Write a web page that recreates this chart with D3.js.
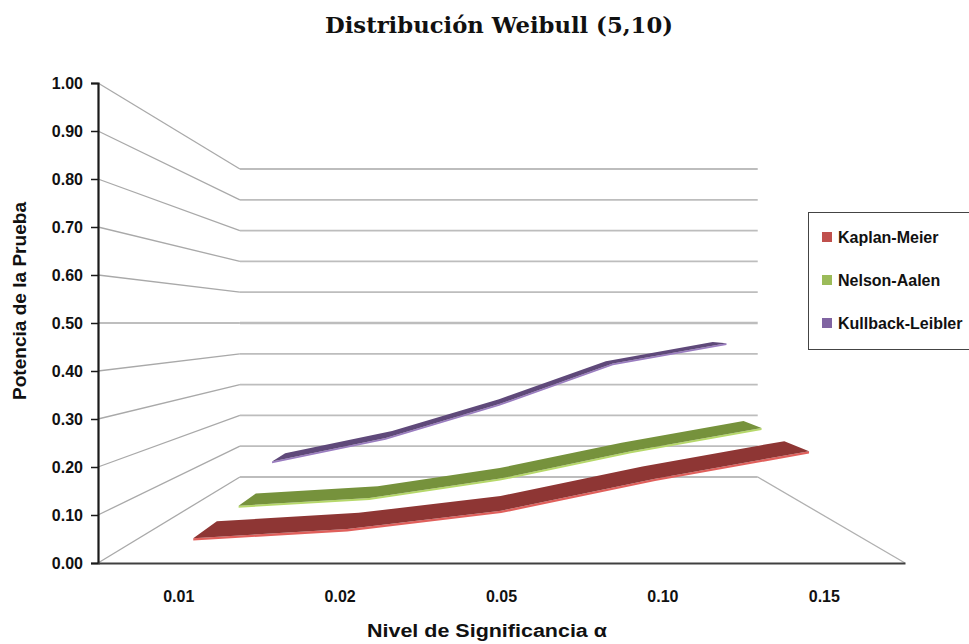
<!DOCTYPE html>
<html>
<head>
<meta charset="utf-8">
<style>
    body {
        margin: 0px;
        padding: 0px;
        background-color: white;
        overflow: hidden;
    }
    text {
        font-family: "Liberation Sans", Arial, sans-serif;
        font-weight: bold;
        fill: #111;
    }
    .title {
        font-family: "DejaVu Serif", "Liberation Serif", serif;
        font-size: 23px;
    }
    .tick text {
        font-size: 16px;
    }
    .axis-title {
        font-size: 18px;
    }
    .legend text {
        font-size: 16px;
    }
</style>
</head>
<body>
<script src="https://cdnjs.cloudflare.com/ajax/libs/d3/7.8.5/d3.min.js"></script>
<script>
// data
var categories = ["0.01", "0.02", "0.05", "0.10", "0.15"];
var seriesNames = ["Kaplan-Meier", "Nelson-Aalen", "Kullback-Leibler"];
var kaplanMeier = [0.03, 0.05, 0.09, 0.16, 0.22];
var nelsonAalen = [0.03, 0.05, 0.10, 0.17, 0.23];
var kullbackLeibler = [0.09, 0.16, 0.26, 0.38, 0.44];
var seriesValues = [kaplanMeier, nelsonAalen, kullbackLeibler];
var topColors = ["#8e3634", "#76923c", "#5f497a"];
var edgeColors = ["#e0605c", "#b6d86a", "#9a7cc0"];
var legendColors = ["#c0504d", "#9bbb59", "#8064a2"];

var width = 969, height = 644;

// front plane of the 3d box
var x = d3.scaleBand().domain(categories).range([98, 905]);
var y = d3.scaleLinear().domain([0, 1]).range([563, 83]);
// depth: 0 = front, 1 = back wall
var z = d3.scaleBand().domain(seriesNames).range([0, 1]);

var vp = { x: 494, y: 323 };   // vanishing point
var k = 0.5584;                 // back wall shrinks to ~0.64

function project(px, py, pz) {
    var s = 1 / (1 + k * pz);
    return [vp.x + (px - vp.x) * s, vp.y + (py - vp.y) * s];
}

var svg = d3.select("body").append("svg")
    .attr("width", width)
    .attr("height", height);

svg.append("text")
    .attr("class", "title")
    .attr("x", 499)
    .attr("y", 33)
    .attr("text-anchor", "middle")
    .attr("textLength", 348)
    .attr("lengthAdjust", "spacingAndGlyphs")
    .text("Distribución Weibull (5,10)");

// walls: side wall + back wall gridlines
var grid = svg.append("g").attr("class", "grid");
var yTicks = y.ticks(10);
var x0 = x.range()[0], x1 = x.range()[1];

yTicks.forEach(function(v) {
    var a = project(x0, y(v), 0),
        b = project(x0, y(v), 1),
        c = project(x1, y(v), 1);
    grid.append("line")
        .attr("x1", a[0]).attr("y1", a[1])
        .attr("x2", b[0]).attr("y2", b[1])
        .attr("stroke", "#a9a9a9")
        .attr("stroke-width", 1.3);
    grid.append("line")
        .attr("x1", b[0]).attr("y1", b[1])
        .attr("x2", c[0]).attr("y2", c[1])
        .attr("stroke", "#bdbdbd")
        .attr("stroke-width", v == 0.5 ? 2.5 : 1.8);
});

// floor right edge
var fr0 = project(x1, y(0), 0), fr1 = project(x1, y(0), 1);
grid.append("line")
    .attr("x1", fr0[0]).attr("y1", fr0[1])
    .attr("x2", fr1[0]).attr("y2", fr1[1])
    .attr("stroke", "#b0b0b0")
    .attr("stroke-width", 1.3);

// ribbons, back series first
var ribbonDepth = z.bandwidth() * 0.48;
var ribbons = svg.append("g").attr("class", "ribbons");

d3.range(seriesNames.length).reverse().forEach(function(i) {
    var name = seriesNames[i];
    var zc = z(name) + z.bandwidth() / 2;
    var zf = zc - ribbonDepth / 2, zb = zc + ribbonDepth / 2;
    var vals = seriesValues[i];
    var cx = function(j) { return x(categories[j]) + x.bandwidth() / 2; };

    var front = vals.map(function(v, j) { return project(cx(j), y(v), zf); });
    var back = vals.map(function(v, j) { return project(cx(j), y(v), zb); });
    var frontLow = vals.map(function(v, j) { return project(cx(j), y(v) + 2.5, zf); });

    // front face (thickness)
    ribbons.append("path")
        .attr("d", d3.line()(front.concat(frontLow.slice().reverse())) + "Z")
        .attr("fill", edgeColors[i]);
    // top surface
    ribbons.append("path")
        .attr("d", d3.line()(front.concat(back.slice().reverse())) + "Z")
        .attr("fill", topColors[i]);
});

// y axis
var yAxis = svg.append("g")
    .attr("class", "y axis")
    .attr("transform", "translate(" + x0 + ",0)")
    .call(d3.axisLeft(y).ticks(10).tickFormat(d3.format(".2f")).tickSize(7).tickPadding(8));
yAxis.select(".domain").attr("stroke", "#1a1a1a").attr("stroke-width", 2.2);
yAxis.selectAll(".tick line").attr("stroke", "#1a1a1a").attr("stroke-width", 1.5);

// x axis along the front edge of the floor
var xAxis = svg.append("g")
    .attr("class", "x axis")
    .attr("transform", "translate(0," + y(0) + ")")
    .call(d3.axisBottom(x).tickSize(0).tickSizeOuter(0).tickPadding(28));
xAxis.select(".domain").attr("stroke", "#404040").attr("stroke-width", 2.2);

svg.append("text")
    .attr("class", "axis-title")
    .attr("transform", "translate(26,301) rotate(-90)")
    .attr("text-anchor", "middle")
    .attr("textLength", 198)
    .attr("lengthAdjust", "spacingAndGlyphs")
    .text("Potencia de la Prueba");

svg.append("text")
    .attr("class", "axis-title")
    .attr("x", 487)
    .attr("y", 637)
    .attr("text-anchor", "middle")
    .attr("textLength", 240)
    .attr("lengthAdjust", "spacingAndGlyphs")
    .text("Nivel de Significancia α");

// legend
var legend = svg.append("g").attr("class", "legend");
legend.append("rect")
    .attr("x", 808.5).attr("y", 212.5)
    .attr("width", 170).attr("height", 137)
    .attr("fill", "white")
    .attr("stroke", "#444")
    .attr("stroke-width", 1);

var legendY = d3.scalePoint().domain(seriesNames).range([237, 323]);
var items = legend.selectAll(".item")
    .data(seriesNames)
    .enter().append("g")
    .attr("class", "item")
    .attr("transform", function(d) { return "translate(822," + legendY(d) + ")"; });
items.append("rect")
    .attr("x", 0).attr("y", -5)
    .attr("width", 10).attr("height", 10)
    .attr("fill", function(d, i) { return legendColors[i]; });
items.append("text")
    .attr("x", 16)
    .attr("y", 6)
    .text(function(d) { return d; });
</script>
</body>
</html>
